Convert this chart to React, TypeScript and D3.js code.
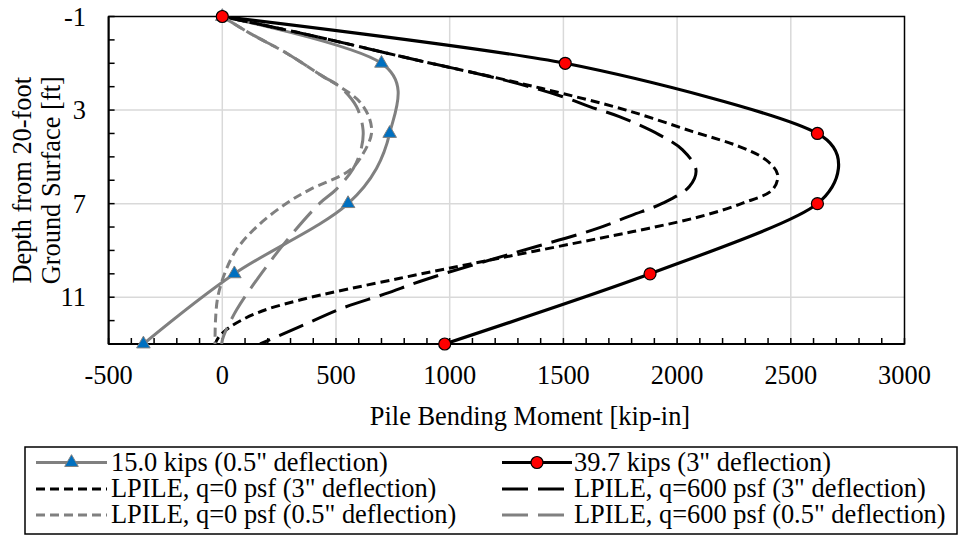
import React from 'react';
import * as d3 from 'd3';

const W = 958;
const H = 535;

// x tick values and y tick values
const xTickValues = [-500, 0, 500, 1000, 1500, 2000, 2500, 3000];
const yTickValues = [-1, 3, 7, 11];
const xGridValues = [0, 500, 1000, 1500, 2000, 2500];
const yGridValues = [3, 7, 11];

// Measured series (depth in ft, moment in kip-in)
const measuredDepths = [-1, 1, 4, 7, 10, 13];
const moment15 = [0, 700, 736, 553, 53, -347];
const moment397 = [0, 1508, 2617, 2617, 1881, 978];

// LPILE curves: [moment, depth]
const lpileQ0_3in: [number, number][] = [
  [0, -1], [341, -0.3], [854, 0.86], [1250, 1.72], [1500, 2.3], [1776, 3.0], [2069, 3.92],
  [2274, 4.56], [2391, 5.13], [2442, 5.75], [2420, 6.4], [2288, 6.98], [2098, 7.56],
  [1878, 8.05], [1659, 8.48], [1220, 9.33], [781, 10.19], [341, 11.12], [151, 11.68],
  [30, 12.3], [-15, 12.7], [-32, 13],
];
const lpileQ600_3in: [number, number][] = [
  [0, -1], [341, -0.3], [854, 0.86], [1250, 1.74], [1498, 2.43], [1615, 2.85], [1746, 3.28],
  [1922, 4.06], [2024, 4.7], [2083, 5.56], [2054, 6.27], [1937, 6.98], [1800, 7.5],
  [1630, 8.12], [1278, 9.12], [898, 10.23], [715, 10.86], [527, 11.47], [341, 12.26], [166, 13],
];
const lpileQ0_05in: [number, number][] = [
  [0, -1], [122, -0.28], [283, 0.57], [444, 1.57], [517, 2.0], [600, 2.6], [645, 3.3],
  [656, 4.0], [620, 4.85], [562, 5.56], [385, 6.4], [283, 6.98], [150, 8.0], [60, 9.0],
  [10, 10.0], [-20, 11.0], [-30, 12.0], [-32, 13],
];
const lpileQ600_05in: [number, number][] = [
  [0, -1], [122, -0.28], [283, 0.57], [444, 1.57], [517, 2.0], [590, 2.85], [619, 3.85],
  [612, 4.6], [576, 5.5], [500, 6.4], [429, 6.98], [297, 8.41], [173, 9.97], [63, 11.54],
  [5, 12.68], [-3, 13],
];

const legendLabels = [
  '15.0 kips (0.5" deflection)',
  '39.7 kips (3" deflection)',
  'LPILE, q=0 psf (3" deflection)',
  'LPILE, q=600 psf (3" deflection)',
  'LPILE, q=0 psf (0.5" deflection)',
  'LPILE, q=600 psf (0.5" deflection)',
];

const FONT = "'Liberation Serif', serif";
const GRAY = '#808080';
const BLUE = '#0070C0';
const RED = '#FF0000';
const SHORT_DASH = '9,5';
const LONG_DASH = '26,10';

export default function App() {
  const left = 108.6, right = 904.5, top = 16.5, bottom = 344;
  const x = d3.scaleLinear().domain([-500, 3000]).range([left, right]);
  const y = d3.scaleLinear().domain([-1, 13]).range([top, bottom]);

  const cardinalGray = d3
    .line<[number, number]>()
    .x((d) => x(d[0]))
    .y((d) => y(d[1]))
    .curve(d3.curveCardinal.tension(0));
  const cardinalBlack = d3
    .line<[number, number]>()
    .x((d) => x(d[0]))
    .y((d) => y(d[1]))
    .curve(d3.curveCardinal.tension(0.2));
  const smooth = d3
    .line<[number, number]>()
    .x((d) => x(d[0]))
    .y((d) => y(d[1]))
    .curve(d3.curveCatmullRom.alpha(0.5));

  const pts15: [number, number][] = moment15.map((m, i) => [m, measuredDepths[i]]);
  const pts397: [number, number][] = moment397.map((m, i) => [m, measuredDepths[i]]);

  const tri = d3.symbol().type(d3.symbolTriangle).size(80)() as string;

  const xMinor = d3.range(-500, 3001, 100);
  const yMinor = d3.range(-1, 13.01, 1);

  const fs = 26.4;
  const ts: React.CSSProperties = { fontFamily: FONT, fontSize: fs };

  // legend layout
  const legRows = [462.5, 489, 515];
  const colSample = [[36, 107], [502, 572]];
  const colText = [111, 574];

  const legendItems = legendLabels.map((label, i) => {
    const col = i % 2;
    const row = Math.floor(i / 2);
    return { label, col, row };
  });

  const styleFor = (i: number) => {
    switch (i) {
      case 0: return { stroke: GRAY, dash: undefined, w: 3 };
      case 1: return { stroke: '#000', dash: undefined, w: 3.2 };
      case 2: return { stroke: '#000', dash: SHORT_DASH, w: 3 };
      case 3: return { stroke: '#000', dash: LONG_DASH, w: 3 };
      case 4: return { stroke: GRAY, dash: SHORT_DASH, w: 3 };
      default: return { stroke: GRAY, dash: LONG_DASH, w: 3 };
    }
  };

  return (
    <div style={{ position: 'absolute', left: 0, top: 0 }}>
      <svg width={W} height={H} style={{ display: 'block', background: '#fff' }}>
        <rect x={0} y={0} width={W} height={H} fill="#fff" />
        <defs>
          <clipPath id="plotclip">
            <rect x={left} y={top} width={right - left} height={bottom - top} />
          </clipPath>
        </defs>
        {/* gridlines */}
        {xGridValues.map((v) => (
          <line key={'gx' + v} x1={x(v)} x2={x(v)} y1={top} y2={bottom} stroke="#d9d9d9" strokeWidth={1.5} />
        ))}
        {yGridValues.map((v) => (
          <line key={'gy' + v} x1={left} x2={right} y1={y(v)} y2={y(v)} stroke="#d9d9d9" strokeWidth={1.5} />
        ))}
        {/* plot border */}
        <rect x={left} y={top} width={right - left} height={bottom - top} fill="none" stroke="#000" strokeWidth={1.5} />
        {/* minor ticks */}
        {xMinor.map((v) => (
          <line key={'tx' + v} x1={x(v)} x2={x(v)} y1={bottom} y2={bottom - 6} stroke="#000" strokeWidth={1.5} />
        ))}
        {yMinor.map((v) => (
          <line key={'ty' + v} x1={left} x2={left + 6} y1={y(v)} y2={y(v)} stroke="#000" strokeWidth={1.5} />
        ))}
        <line x1={left} x2={right} y1={bottom} y2={bottom} stroke="#000" strokeWidth={2} />
        <line x1={left} x2={left} y1={top} y2={bottom} stroke="#000" strokeWidth={2} />

        {/* series lines */}
        <g clipPath="url(#plotclip)" fill="none" strokeLinejoin="round">
          <path d={cardinalGray(pts15) || ''} stroke={GRAY} strokeWidth={3} />
          <path d={cardinalBlack(pts397) || ''} stroke="#000" strokeWidth={3.2} />
          <path d={smooth(lpileQ0_3in) || ''} stroke="#000" strokeWidth={3} strokeDasharray={SHORT_DASH} />
          <path d={smooth(lpileQ600_3in) || ''} stroke="#000" strokeWidth={3} strokeDasharray={LONG_DASH} />
          <path d={smooth(lpileQ0_05in) || ''} stroke={GRAY} strokeWidth={3} strokeDasharray={SHORT_DASH} />
          <path d={smooth(lpileQ600_05in) || ''} stroke={GRAY} strokeWidth={3} strokeDasharray={LONG_DASH} />
        </g>
        {/* markers */}
        {pts15.map((p, i) => (
          <path key={'m15' + i} d={tri} transform={`translate(${x(p[0])},${y(p[1])})`} fill={BLUE} stroke={GRAY} strokeWidth={1} />
        ))}
        {pts397.map((p, i) => (
          <circle key={'m397' + i} cx={x(p[0])} cy={y(p[1])} r={6} fill={RED} stroke="#000" strokeWidth={1.2} />
        ))}

        {/* tick labels */}
        {xTickValues.map((v) => (
          <text key={'lx' + v} x={x(v)} y={384} style={ts} textAnchor="middle">{v}</text>
        ))}
        {yTickValues.map((v) => (
          <text key={'ly' + v} x={86} y={y(v) + 9} style={ts} textAnchor="end">{v}</text>
        ))}

        {/* axis titles */}
        <text x={530} y={425} style={ts} textAnchor="middle">Pile Bending Moment [kip-in]</text>
        <text transform={`translate(31,${(top + bottom) / 2}) rotate(-90)`} style={ts} textAnchor="middle">Depth from 20-foot</text>
        <text transform={`translate(60,${(top + bottom) / 2}) rotate(-90)`} style={ts} textAnchor="middle">Ground Surface [ft]</text>

        {/* legend */}
        <rect x={25} y={447} width={932} height={87} fill="#fff" stroke="#000" strokeWidth={1.5} />
        {legendItems.map((it, i) => {
          const s = styleFor(i);
          const yy = legRows[it.row];
          const [x0, x1] = colSample[it.col];
          const cx = (x0 + x1) / 2;
          return (
            <g key={'leg' + i}>
              <line x1={x0} x2={x1} y1={yy} y2={yy} stroke={s.stroke} strokeWidth={s.w} strokeDasharray={s.dash} />
              {i === 0 && (
                <path d={tri} transform={`translate(${cx},${yy})`} fill={BLUE} stroke={GRAY} strokeWidth={1} />
              )}
              {i === 1 && <circle cx={cx} cy={yy} r={6} fill={RED} stroke="#000" strokeWidth={1.2} />}
              <text x={colText[it.col]} y={yy + 8} style={ts}>{it.label}</text>
            </g>
          );
        })}
      </svg>
    </div>
  );
}
